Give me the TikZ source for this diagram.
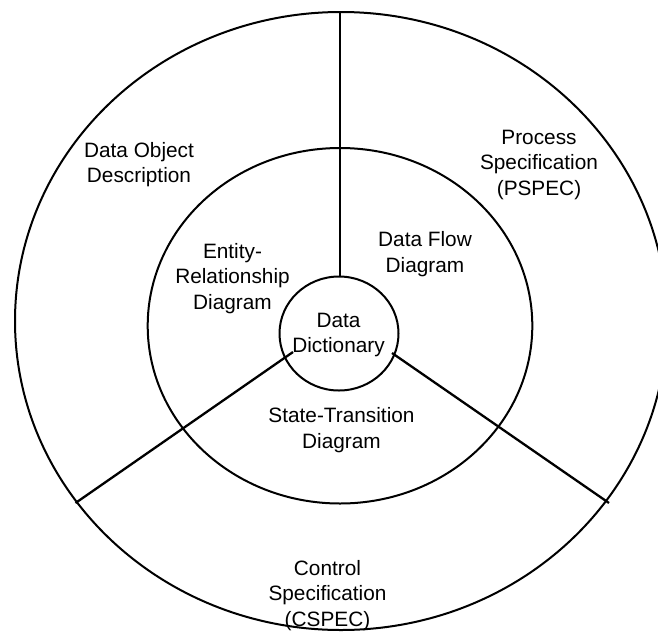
\documentclass[tikz,border=0pt]{standalone}
\usepackage{fontspec}
\setmainfont{Liberation Sans}
\begin{document}
\begin{tikzpicture}[x=1pt,y=-1pt,
  ring/.style={draw=black,line width=2pt},
  spoke/.style={draw=black,line width=2.3pt},
  divider/.style={draw=black,line width=1.4pt},
  lbl/.style={align=center,inner sep=0pt,font=\fontsize{20.8}{25.6}\selectfont}]
\useasboundingbox (0,0) rectangle (658,632);
\clip (0,0) rectangle (658,632);
\fill[white] (0,0) rectangle (658,632);
% rings
\draw[ring] (341,321) ellipse [x radius=326, y radius=309];
\draw[ring] (340,325.75) ellipse [x radius=192.3, y radius=177.75];
\draw[ring] (339,333.5) ellipse [x radius=59.5, y radius=57];
% dividers
\coordinate (vtop) at (340,12);
\coordinate (vbot) at (340,276.5);
\coordinate (lin) at (293,352);
\coordinate (lout) at (75.5,503);
\coordinate (rin) at (392,353);
\coordinate (rout) at (609,503);
\draw[divider] (vtop) -- (vbot);
\draw[spoke] (lin) -- (lout);
\draw[spoke] (rin) -- (rout);
% labels
\node[lbl] (dod) at (139,164.9) {\strut Data Object\\\strut Description};
\node[lbl] (pspec) at (539,164.5) {\strut Process\\\strut Specification\\\strut (PSPEC)};
\node[lbl] (erd) at (232.5,278.5) {\strut Entity-\\\strut Relationship\\\strut Diagram};
\node[lbl] (dfd) at (425,254.4) {\strut Data Flow\\\strut Diagram};
\node[lbl] (dd) at (338.5,334.7) {\strut Data\\\strut Dictionary};
\node[lbl] (std) at (341.5,430.1) {\strut State-Transition\\\strut Diagram};
\node[lbl] (cspec) at (327.5,595.5) {\strut Control\\\strut Specification\\\strut (CSPEC)};
\end{tikzpicture}
\end{document}
